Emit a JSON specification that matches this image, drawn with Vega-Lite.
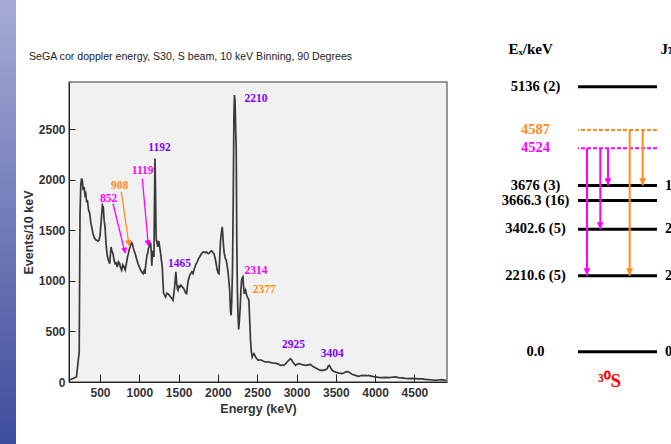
{
  "$schema": "https://vega.github.io/schema/vega-lite/v6.json",
  "padding": 0,
  "background": "#ffffff",
  "spacing": 5,
  "resolve": {"scale": {"color": "independent"}},
  "config": {"view": {"stroke": null}},
  "datasets": {
    "spectrum": [
      {"E":110,"c":20},{"E":200,"c":50},{"E":235,"c":300},{"E":245,"c":1650},{"E":255,"c":1950},{"E":265,"c":2015},{"E":275,"c":1990},{"E":285,"c":1900},{"E":297,"c":1932},{"E":308,"c":1850},{"E":318,"c":1866},{"E":330,"c":1780},{"E":339,"c":1800},{"E":355,"c":1700},{"E":369,"c":1668},{"E":382,"c":1580},{"E":394,"c":1536},{"E":410,"c":1470},{"E":424,"c":1437},{"E":440,"c":1410},{"E":458,"c":1404},{"E":472,"c":1395},{"E":487,"c":1404},{"E":500,"c":1450},{"E":515,"c":1600},{"E":530,"c":1750},{"E":542,"c":1730},{"E":552,"c":1600},{"E":564,"c":1536},{"E":572,"c":1420},{"E":580,"c":1337},{"E":592,"c":1250},{"E":606,"c":1205},{"E":615,"c":1190},{"E":623,"c":1172},{"E":632,"c":1260},{"E":640,"c":1337},{"E":650,"c":1300},{"E":665,"c":1271},{"E":678,"c":1210},{"E":691,"c":1172},{"E":705,"c":1180},{"E":720,"c":1139},{"E":735,"c":1190},{"E":750,"c":1172},{"E":762,"c":1130},{"E":775,"c":1106},{"E":790,"c":1160},{"E":805,"c":1139},{"E":820,"c":1110},{"E":835,"c":1172},{"E":848,"c":1230},{"E":860,"c":1271},{"E":875,"c":1320},{"E":890,"c":1354},{"E":900,"c":1380},{"E":911,"c":1370},{"E":922,"c":1330},{"E":932,"c":1304},{"E":943,"c":1280},{"E":953,"c":1255},{"E":968,"c":1210},{"E":983,"c":1172},{"E":1000,"c":1140},{"E":1017,"c":1106},{"E":1032,"c":1090},{"E":1047,"c":1073},{"E":1060,"c":1100},{"E":1072,"c":1073},{"E":1080,"c":1150},{"E":1089,"c":1205},{"E":1098,"c":1260},{"E":1106,"c":1271},{"E":1115,"c":1320},{"E":1123,"c":1337},{"E":1135,"c":1380},{"E":1144,"c":1370},{"E":1152,"c":1290},{"E":1158,"c":1150},{"E":1165,"c":1238},{"E":1175,"c":1300},{"E":1186,"c":1238},{"E":1192,"c":1700},{"E":1199,"c":2213},{"E":1206,"c":1900},{"E":1212,"c":1500},{"E":1216,"c":1403},{"E":1225,"c":1380},{"E":1233,"c":1337},{"E":1242,"c":1390},{"E":1250,"c":1387},{"E":1260,"c":1330},{"E":1271,"c":1271},{"E":1282,"c":1200},{"E":1292,"c":1139},{"E":1300,"c":1000},{"E":1309,"c":875},{"E":1320,"c":860},{"E":1335,"c":842},{"E":1350,"c":880},{"E":1364,"c":875},{"E":1380,"c":860},{"E":1398,"c":842},{"E":1412,"c":830},{"E":1428,"c":809},{"E":1440,"c":880},{"E":1449,"c":941},{"E":1458,"c":1020},{"E":1465,"c":1090},{"E":1475,"c":980},{"E":1485,"c":920},{"E":1492,"c":908},{"E":1505,"c":950},{"E":1517,"c":941},{"E":1530,"c":960},{"E":1547,"c":941},{"E":1560,"c":930},{"E":1576,"c":908},{"E":1590,"c":880},{"E":1602,"c":875},{"E":1612,"c":950},{"E":1623,"c":1007},{"E":1638,"c":1050},{"E":1653,"c":1073},{"E":1668,"c":1090},{"E":1682,"c":1073},{"E":1695,"c":1110},{"E":1708,"c":1139},{"E":1722,"c":1170},{"E":1737,"c":1189},{"E":1752,"c":1220},{"E":1767,"c":1238},{"E":1780,"c":1255},{"E":1792,"c":1271},{"E":1808,"c":1285},{"E":1822,"c":1288},{"E":1838,"c":1280},{"E":1852,"c":1288},{"E":1870,"c":1275},{"E":1886,"c":1271},{"E":1903,"c":1290},{"E":1919,"c":1298},{"E":1935,"c":1285},{"E":1949,"c":1271},{"E":1960,"c":1240},{"E":1970,"c":1205},{"E":1982,"c":1150},{"E":1992,"c":1106},{"E":2003,"c":1080},{"E":2013,"c":1073},{"E":2024,"c":1250},{"E":2034,"c":1404},{"E":2045,"c":1480},{"E":2055,"c":1536},{"E":2063,"c":1450},{"E":2072,"c":1337},{"E":2080,"c":1280},{"E":2089,"c":1238},{"E":2097,"c":1220},{"E":2106,"c":1205},{"E":2118,"c":1150},{"E":2131,"c":1073},{"E":2142,"c":980},{"E":2150,"c":900},{"E":2160,"c":700},{"E":2168,"c":660},{"E":2176,"c":800},{"E":2185,"c":1100},{"E":2195,"c":1800},{"E":2203,"c":2600},{"E":2210,"c":2840},{"E":2218,"c":2780},{"E":2226,"c":2500},{"E":2233,"c":2300},{"E":2240,"c":1400},{"E":2248,"c":900},{"E":2256,"c":650},{"E":2264,"c":520},{"E":2272,"c":600},{"E":2284,"c":743},{"E":2292,"c":900},{"E":2301,"c":1007},{"E":2310,"c":1030},{"E":2318,"c":1040},{"E":2326,"c":950},{"E":2335,"c":875},{"E":2343,"c":890},{"E":2352,"c":908},{"E":2362,"c":870},{"E":2373,"c":842},{"E":2384,"c":830},{"E":2394,"c":809},{"E":2405,"c":600},{"E":2415,"c":413},{"E":2425,"c":300},{"E":2436,"c":248},{"E":2447,"c":270},{"E":2458,"c":281},{"E":2468,"c":265},{"E":2479,"c":248},{"E":2495,"c":230},{"E":2513,"c":215},{"E":2535,"c":220},{"E":2555,"c":215},{"E":2580,"c":205},{"E":2606,"c":198},{"E":2625,"c":200},{"E":2648,"c":198},{"E":2675,"c":192},{"E":2699,"c":188},{"E":2725,"c":186},{"E":2754,"c":182},{"E":2775,"c":175},{"E":2797,"c":165},{"E":2820,"c":168},{"E":2839,"c":165},{"E":2860,"c":180},{"E":2881,"c":198},{"E":2900,"c":215},{"E":2924,"c":231},{"E":2940,"c":215},{"E":2953,"c":198},{"E":2970,"c":180},{"E":2987,"c":165},{"E":3008,"c":175},{"E":3030,"c":182},{"E":3050,"c":178},{"E":3072,"c":172},{"E":3100,"c":168},{"E":3123,"c":165},{"E":3150,"c":170},{"E":3178,"c":175},{"E":3200,"c":160},{"E":3220,"c":149},{"E":3240,"c":140},{"E":3263,"c":132},{"E":3285,"c":122},{"E":3305,"c":116},{"E":3325,"c":118},{"E":3347,"c":116},{"E":3370,"c":122},{"E":3390,"c":132},{"E":3405,"c":160},{"E":3419,"c":165},{"E":3435,"c":140},{"E":3453,"c":116},{"E":3475,"c":105},{"E":3496,"c":99},{"E":3518,"c":92},{"E":3538,"c":89},{"E":3560,"c":86},{"E":3581,"c":83},{"E":3600,"c":90},{"E":3623,"c":99},{"E":3645,"c":102},{"E":3665,"c":99},{"E":3685,"c":88},{"E":3708,"c":76},{"E":3730,"c":70},{"E":3750,"c":66},{"E":3770,"c":60},{"E":3792,"c":56},{"E":3815,"c":62},{"E":3835,"c":66},{"E":3855,"c":64},{"E":3877,"c":66},{"E":3900,"c":62},{"E":3919,"c":66},{"E":3940,"c":60},{"E":3962,"c":56},{"E":3985,"c":52},{"E":4004,"c":50},{"E":4045,"c":46},{"E":4089,"c":43},{"E":4130,"c":45},{"E":4174,"c":43},{"E":4215,"c":47},{"E":4258,"c":50},{"E":4300,"c":44},{"E":4343,"c":40},{"E":4385,"c":36},{"E":4428,"c":33},{"E":4470,"c":35},{"E":4513,"c":33},{"E":4555,"c":31},{"E":4597,"c":30},{"E":4640,"c":26},{"E":4682,"c":23},{"E":4725,"c":20},{"E":4767,"c":17},{"E":4810,"c":20},{"E":4852,"c":23},{"E":4880,"c":19},{"E":4907,"c":17}
    ],
    "peaks": [
      {"label":"852","E":609,"c":1810,"grp":"via4524"},
      {"label":"908","E":749,"c":1938,"grp":"via4587"},
      {"label":"1119","E":1042,"c":2087,"grp":"via4524"},
      {"label":"1192","E":1256,"c":2312,"grp":"assigned"},
      {"label":"1465","E":1510,"c":1166,"grp":"assigned"},
      {"label":"2210","E":2483,"c":2797,"grp":"assigned"},
      {"label":"2314","E":2483,"c":1096,"grp":"via4524"},
      {"label":"2377","E":2589,"c":908,"grp":"via4587"},
      {"label":"2925","E":2961,"c":363,"grp":"assigned"},
      {"label":"3404","E":3455,"c":281,"grp":"assigned"}
    ],
    "arrows": [
      {"E1":665,"c1":1767,"E2":818,"c2":1278,"grp":"via4524"},
      {"E1":771,"c1":1882,"E2":869,"c2":1354,"grp":"via4587"},
      {"E1":1038,"c1":2015,"E2":1114,"c2":1354,"grp":"via4524"}
    ],
    "levels": [
      {"E":5136,"label":"5136 (2)","jp":"","kind":"level"},
      {"E":4587,"label":"4587","jp":"","kind":"4587"},
      {"E":4524,"label":"4524","jp":"","kind":"4524"},
      {"E":3676,"label":"3676 (3)","jp":"1⁺","kind":"level"},
      {"E":3666.3,"label":"3666.3 (16)","jp":"","kind":"level"},
      {"E":3402.6,"label":"3402.6 (5)","jp":"2⁺","kind":"level"},
      {"E":2210.6,"label":"2210.6 (5)","jp":"2⁺","kind":"level"},
      {"E":0,"label":"0.0","jp":"0⁺","kind":"level"}
    ],
    "nucleus": [{"E":0,"name":"³⁰S"}],
    "transitions": [
      {"Eg":2314,"from":4524,"to":2210.6,"kind":"4524"},
      {"Eg":1119,"from":4524,"to":3402.6,"kind":"4524"},
      {"Eg":852,"from":4524,"to":3676,"kind":"4524"},
      {"Eg":2377,"from":4587,"to":2210.6,"kind":"4587"},
      {"Eg":908,"from":4587,"to":3676,"kind":"4587"}
    ]
  },
  "hconcat": [
    {
      "width": 16,
      "height": 464,
      "view": {"stroke": null, "fill": "#6d77bb"},
      "data": {"values": [{"bar": "slide"}]},
      "mark": {"type": "rect", "color": {"gradient": "linear", "x1": 0, "y1": 0, "x2": 0, "y2": 1, "stops": [{"offset": 0, "color": "#a6abd5"}, {"offset": 1, "color": "#3a489b"}]}},
      "encoding": {}
    },
    {
      "spacing": 131,
      "bounds": "flush",
      "center": true,
      "resolve": {"scale": {"color": "independent"}},
      "hconcat": [
        {
          "width": 378,
          "height": 300,
          "view": {"fill": "#f1f1f1", "stroke": "#777777", "strokeWidth": 1.5},
          "title": {"text": "SeGA cor doppler energy, S30, S beam, 10 keV Binning, 90 Degrees", "anchor": "start", "frame": "group", "dx": -40, "offset": 19, "font": "Liberation Sans", "fontSize": 10.6, "fontWeight": "normal", "color": "#222222"},
          "layer": [
            {
              "data": {"name": "spectrum"},
              "mark": {"type": "line", "color": "#383838", "strokeWidth": 1.7},
              "encoding": {
                "x": {"field": "E", "type": "quantitative", "title": "Energy (keV)",
                  "scale": {"domain": [105, 4915], "nice": false, "zero": false},
                  "axis": {"values": [500,1000,1500,2000,2500,3000,3500,4000,4500],
                    "format": "d", "tickSize": -8, "labelPadding": 13, "grid": false,
                    "domainColor": "#222222", "tickColor": "#222222",
                    "labelFont": "Liberation Sans", "labelFontSize": 12, "labelFontWeight": "bold", "labelColor": "#333333",
                    "titleFont": "Liberation Sans", "titleFontSize": 12.5, "titleFontWeight": "bold", "titleColor": "#333333",
                    "titleY": 26, "titleBaseline": "middle"}},
                "y": {"field": "c", "type": "quantitative", "title": "Events/10 keV",
                  "scale": {"domain": [0, 2970], "nice": false, "zero": false},
                  "axis": {"values": [0,500,1000,1500,2000,2500],
                    "format": "d", "tickSize": -6, "labelPadding": 10, "grid": false,
                    "domainColor": "#222222", "tickColor": "#222222",
                    "labelFont": "Liberation Sans", "labelFontSize": 12, "labelFontWeight": "bold", "labelColor": "#333333",
                    "titleFont": "Liberation Sans", "titleFontSize": 12.5, "titleFontWeight": "bold", "titleColor": "#333333",
                    "titleX": -40.3, "titleY": 150, "titleBaseline": "middle", "titleAlign": "center"}}
              }
            },
            {
              "data": {"name": "peaks"},
              "mark": {"type": "text", "font": "Liberation Serif", "fontSize": 11.5, "fontWeight": "bold", "align": "center", "baseline": "middle"},
              "encoding": {
                "x": {"field": "E", "type": "quantitative", "title": "Energy (keV)"},
                "y": {"field": "c", "type": "quantitative", "title": "Events/10 keV"},
                "text": {"field": "label"},
                "color": {"field": "grp", "type": "nominal", "scale": {"domain": ["assigned", "via4524", "via4587"], "range": ["#7f00ff", "#ff00ff", "#ff8c1a"]}, "legend": null}
              }
            },
            {
              "data": {"name": "arrows"},
              "mark": {"type": "rule", "strokeWidth": 1.3},
              "encoding": {
                "x": {"field": "E1", "type": "quantitative", "title": "Energy (keV)"},
                "y": {"field": "c1", "type": "quantitative", "title": "Events/10 keV"},
                "x2": {"field": "E2"},
                "y2": {"field": "c2"},
                "color": {"field": "grp", "type": "nominal", "scale": {"domain": ["assigned", "via4524", "via4587"], "range": ["#7f00ff", "#ff00ff", "#ff8c1a"]}, "legend": null}
              }
            },
            {
              "data": {"name": "arrows"},
              "mark": {"type": "text", "text": "▼", "font": "DejaVu Sans", "fontSize": 8, "align": "center", "baseline": "alphabetic", "angle": -8},
              "encoding": {
                "x": {"field": "E2", "type": "quantitative", "title": "Energy (keV)"},
                "y": {"field": "c2", "type": "quantitative", "title": "Events/10 keV"},
                "color": {"field": "grp", "type": "nominal", "scale": {"domain": ["assigned", "via4524", "via4587"], "range": ["#7f00ff", "#ff00ff", "#ff8c1a"]}, "legend": null}
              }
            }
          ]
        },
        {
          "width": 79,
          "height": 464,
          "view": {"stroke": null},
          "layer": [
            {
              "data": {"name": "levels"},
              "transform": [{"filter": "datum.kind === 'level'"}],
              "mark": {"type": "rule", "color": "#000000", "strokeWidth": 3},
              "encoding": {
                "y": {"field": "E", "type": "quantitative",
                  "scale": {"domain": [0, 2210.6, 3402.6, 3666.3, 3676, 4524, 4587, 5136], "range": [351.7, 275.7, 229.3, 200.5, 185.5, 148.3, 130, 86.7], "nice": false, "zero": false},
                  "axis": {"orient": "left", "title": "Eₓ/keV", "labels": false, "ticks": false, "domain": false, "grid": false, "titleAngle": 0, "titleX": -70, "titleY": 48, "titleAlign": "left", "titleBaseline": "middle", "titleFont": "Liberation Serif", "titleFontSize": 15, "titleFontWeight": "bold", "titleColor": "#000000"}}
              }
            },
            {
              "data": {"name": "levels"},
              "transform": [{"filter": "datum.kind !== 'level'"}],
              "mark": {"type": "rule", "strokeWidth": 2, "strokeDash": [4, 2]},
              "encoding": {
                "y": {"field": "E", "type": "quantitative"},
                "color": {"field": "kind", "type": "nominal", "scale": {"domain": ["level", "4587", "4524"], "range": ["#000000", "#ff8c1a", "#ff00ff"]}, "legend": null}
              }
            },
            {
              "data": {"name": "levels"},
              "mark": {"type": "text", "font": "Liberation Serif", "fontSize": 14.5, "fontWeight": "bold", "align": "center", "baseline": "middle", "dx": -82},
              "encoding": {
                "y": {"field": "E", "type": "quantitative"},
                "text": {"field": "label"},
                "color": {"field": "kind", "type": "nominal", "scale": {"domain": ["level", "4587", "4524"], "range": ["#000000", "#ff8c1a", "#ff00ff"]}, "legend": null}
              }
            },
            {
              "data": {"name": "levels"},
              "mark": {"type": "text", "font": "Liberation Serif", "fontSize": 14.5, "fontWeight": "bold", "align": "left", "baseline": "middle", "dx": 47.5, "color": "#000000"},
              "encoding": {
                "y": {"field": "E", "type": "quantitative"},
                "text": {"field": "jp"}
              }
            },
            {
              "data": {"name": "nucleus"},
              "mark": {"type": "text", "font": "Liberation Serif", "fontSize": 19, "fontWeight": "bold", "align": "center", "baseline": "middle", "dx": -8, "dy": 29, "color": "#ff0000"},
              "encoding": {
                "y": {"field": "E", "type": "quantitative"},
                "text": {"field": "name"}
              }
            },
            {
              "data": {"name": "transitions"},
              "mark": {"type": "rule", "strokeWidth": 2},
              "encoding": {
                "x": {"field": "Eg", "type": "quantitative",
                  "scale": {"domain": [852, 908, 1119, 2314, 2377], "range": [30, 64.7, 22.3, 9, 51.7], "nice": false, "zero": false},
                  "axis": {"orient": "top", "title": "Jπ", "labels": false, "ticks": false, "domain": false, "grid": false, "titleX": 82, "titleY": 48, "titleAlign": "left", "titleBaseline": "middle", "titleFont": "Liberation Serif", "titleFontSize": 15, "titleFontWeight": "bold", "titleColor": "#000000"}},
                "y": {"field": "from", "type": "quantitative"},
                "y2": {"field": "to"},
                "color": {"field": "kind", "type": "nominal", "scale": {"domain": ["level", "4587", "4524"], "range": ["#000000", "#ff8c1a", "#ff00ff"]}, "legend": null}
              }
            },
            {
              "data": {"name": "transitions"},
              "mark": {"type": "text", "text": "▼", "font": "DejaVu Sans", "fontSize": 9, "align": "center", "baseline": "alphabetic", "dy": -1.5},
              "encoding": {
                "x": {"field": "Eg", "type": "quantitative"},
                "y": {"field": "to", "type": "quantitative"},
                "color": {"field": "kind", "type": "nominal", "scale": {"domain": ["level", "4587", "4524"], "range": ["#000000", "#ff8c1a", "#ff00ff"]}, "legend": null}
              }
            }
          ]
        }
      ]
    }
  ]
}
